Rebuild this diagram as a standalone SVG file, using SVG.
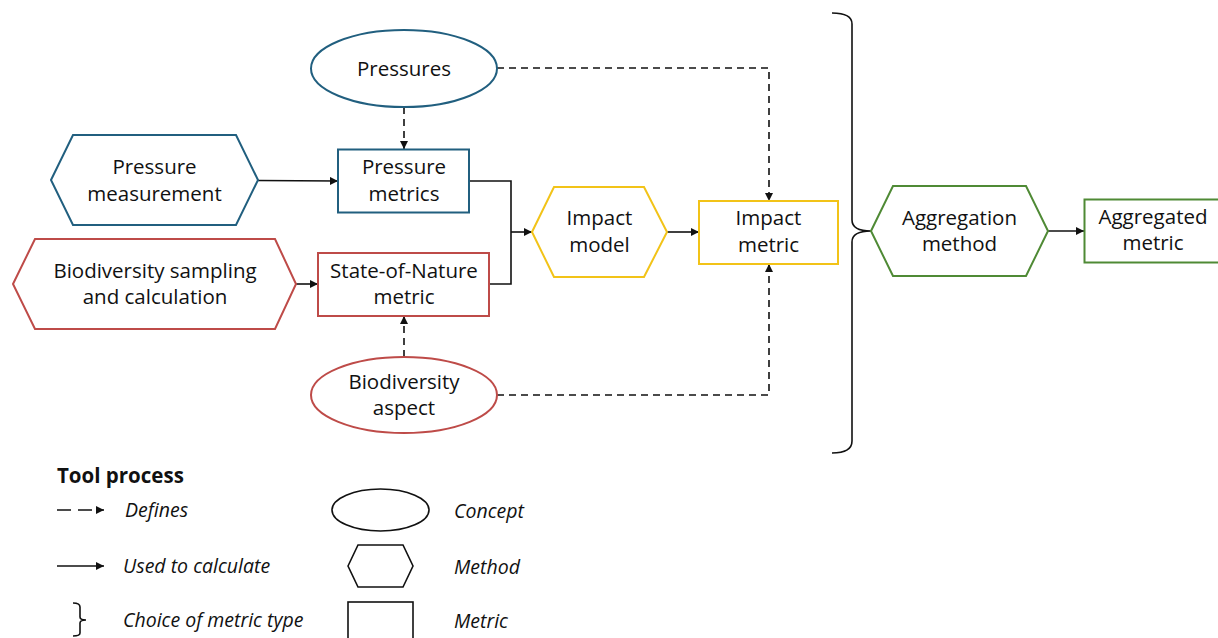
<svg xmlns="http://www.w3.org/2000/svg" width="1218" height="638" viewBox="0 0 1218 638">
<style>
.t{font-family:"Open Sans","Liberation Sans",sans-serif;font-size:20.5px;fill:#111;text-anchor:middle}
.l{font-family:"Open Sans","Liberation Sans",sans-serif;font-size:19.5px;font-style:italic;fill:#111}
.b{stroke:#215F7F;stroke-width:2;fill:#fff}
.r{stroke:#BE4B48;stroke-width:2;fill:#fff}
.y{stroke:#F2C318;stroke-width:2;fill:#fff}
.g{stroke:#4F8A35;stroke-width:2;fill:#fff}
.k{stroke:#111;stroke-width:1.6;fill:#fff}
.c{stroke:#111;stroke-width:1.6;fill:none}
.d{stroke:#111;stroke-width:1.6;fill:none;stroke-dasharray:7 5}
</style>
<defs>
<marker id="a" viewBox="0 0 10 10" refX="10" refY="5" markerWidth="8" markerHeight="8" markerUnits="userSpaceOnUse" orient="auto">
<path d="M0,0 L10,5 L0,10 z" fill="#111"/>
</marker>
</defs>
<rect width="1218" height="638" fill="#fff"/>
<g id="connectors">
<path class="c" d="M258,180.5 L338,181" marker-end="url(#a)"/>
<path class="c" d="M296,284 L318,284" marker-end="url(#a)"/>
<path class="c" d="M469,181 L511,181 L511,284 L490,284"/>
<path class="c" d="M511,232 L532,232" marker-end="url(#a)"/>
<path class="c" d="M667,232 L699,232" marker-end="url(#a)"/>
<path class="c" d="M1048,231 L1084,231" marker-end="url(#a)"/>
<path class="d" d="M404,107 L404,149" marker-end="url(#a)"/>
<path class="d" d="M404,357 L404,316" marker-end="url(#a)"/>
<path class="d" d="M497,68 L769,68 L769,201" marker-end="url(#a)"/>
<path class="d" d="M497,395 L769,395 L769,264" marker-end="url(#a)"/>
<path class="c" d="M832,13 Q852,13 852,24 L852,220 Q852,231 871,231 Q852,231 852,242 L852,441 Q852,453 832,453"/>
</g>
<g id="pressures">
<ellipse class="b" cx="404" cy="68.5" rx="93" ry="38.5"/>
<text class="t" x="404" y="75.5">Pressures</text>
</g>
<g id="pressure-measurement">
<polygon class="b" points="51,180 73,135 236,135 258,180 236,225 73,225"/>
<text class="t" x="154.5" y="174">Pressure</text>
<text class="t" x="154.5" y="201">measurement</text>
</g>
<g id="pressure-metrics">
<rect class="b" x="338" y="149.5" width="131" height="63"/>
<text class="t" x="404" y="174">Pressure</text>
<text class="t" x="404" y="201">metrics</text>
</g>
<g id="biodiversity-sampling">
<polygon class="r" points="13,284 35,239 275,239 296,284 275,329 35,329"/>
<text class="t" x="155" y="278">Biodiversity sampling</text>
<text class="t" x="155" y="304">and calculation</text>
</g>
<g id="state-of-nature">
<rect class="r" x="318" y="253" width="171" height="63"/>
<text class="t" x="404" y="278">State-of-Nature</text>
<text class="t" x="404" y="304">metric</text>
</g>
<g id="biodiversity-aspect">
<ellipse class="r" cx="404" cy="395" rx="93" ry="38"/>
<text class="t" x="404" y="389">Biodiversity</text>
<text class="t" x="404" y="415">aspect</text>
</g>
<g id="impact-model">
<polygon class="y" points="532,232 554,187 644,187 667,232 644,277 554,277"/>
<text class="t" x="599.5" y="225">Impact</text>
<text class="t" x="599.5" y="252">model</text>
</g>
<g id="impact-metric">
<rect class="y" x="699" y="201" width="139" height="63"/>
<text class="t" x="768.5" y="225">Impact</text>
<text class="t" x="768.5" y="252">metric</text>
</g>
<g id="aggregation-method">
<polygon class="g" points="871,231 893,186 1026,186 1048,231 1026,276 893,276"/>
<text class="t" x="959.5" y="225">Aggregation</text>
<text class="t" x="959.5" y="251">method</text>
</g>
<g id="aggregated-metric">
<rect class="g" x="1084.5" y="199.5" width="145" height="63"/>
<text class="t" x="1153" y="224">Aggregated</text>
<text class="t" x="1153" y="250">metric</text>
</g>
<g id="legend">
<text x="57" y="483" style="font-family:'Open Sans','Liberation Sans',sans-serif;font-size:20.5px;font-weight:bold;fill:#111">Tool process</text>
<path class="d" d="M57,510 L104,510" style="stroke-dasharray:14 7" marker-end="url(#a)"/>
<text class="l" x="125" y="517">Defines</text>
<path class="c" d="M57,566 L104,566" marker-end="url(#a)"/>
<text class="l" x="123" y="573">Used to calculate</text>
<path class="c" d="M73,603 Q80,603 80,607 L80,617 Q80,620 86,620 Q80,620 80,623 L80,633 Q80,636 73,636"/>
<text class="l" x="123" y="627">Choice of metric type</text>
<ellipse class="k" cx="380.5" cy="510" rx="48.5" ry="21"/>
<text class="l" x="454" y="518">Concept</text>
<polygon class="k" points="348,566 358,545 403,545 413,566 403,587 358,587"/>
<text class="l" x="454" y="574">Method</text>
<rect class="k" x="348" y="602" width="65" height="45"/>
<text class="l" x="454" y="628">Metric</text>
</g>
</svg>
